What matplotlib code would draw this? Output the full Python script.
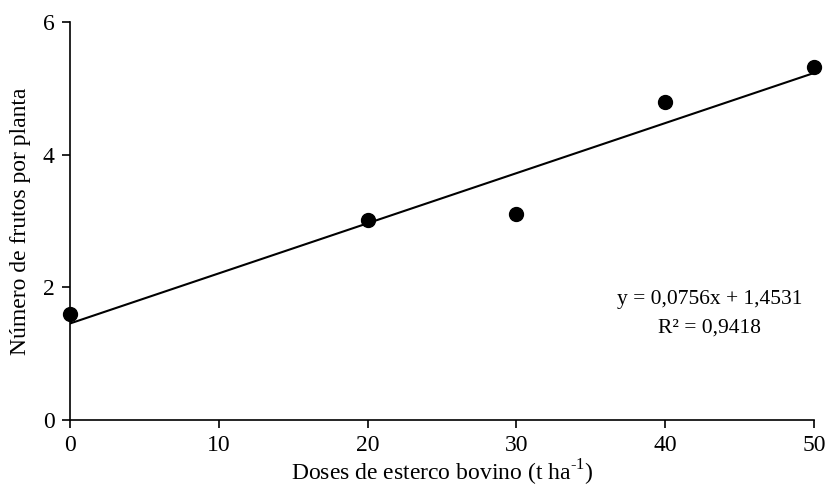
import numpy as np
import matplotlib.pyplot as plt

plt.rcParams['font.family'] = ['Liberation Serif', 'DejaVu Serif']
plt.rcParams['mathtext.fontset'] = 'custom'
plt.rcParams['mathtext.rm'] = 'Liberation Serif'

doses = np.array([0, 20, 30, 40, 50])
frutos = np.array([1.6, 3.02, 3.1, 4.8, 5.32])
a, b = 0.0756, 1.4531

fig, ax = plt.subplots(figsize=(8.3, 4.9), dpi=100)
fig.subplots_adjust(left=0.084, right=0.981, top=0.955, bottom=0.143)

xl = np.array([0, 50])
ax.plot(xl, a*xl + b, color='black', lw=1.5, zorder=2)
ax.plot(doses, frutos, 'o', color='black', ms=10, zorder=3, clip_on=False)

ax.text(43.0, 1.81, 'y = 0,0756x + 1,4531', ha='center', va='center', fontsize=15.5)
ax.text(43.0, 1.39, 'R² = 0,9418', ha='center', va='center', fontsize=15.5)

ax.set_xlim(0, 50)
ax.set_ylim(0, 6)
ax.set_xticks([0, 10, 20, 30, 40, 50])
ax.set_yticks([0, 2, 4, 6])
ax.spines['top'].set_visible(False)
ax.spines['right'].set_visible(False)
for s in ['left', 'bottom']:
    ax.spines[s].set_linewidth(1.2)
ax.tick_params(direction='out', length=6, width=1.2, labelsize=17, pad=5)
ax.set_xlabel(r'Doses de esterco bovino (t ha$^{\text{-1}}$)', fontsize=17, labelpad=1)
ax.set_ylabel('Número de frutos por planta', fontsize=17, labelpad=8)

plt.savefig('out.png')
